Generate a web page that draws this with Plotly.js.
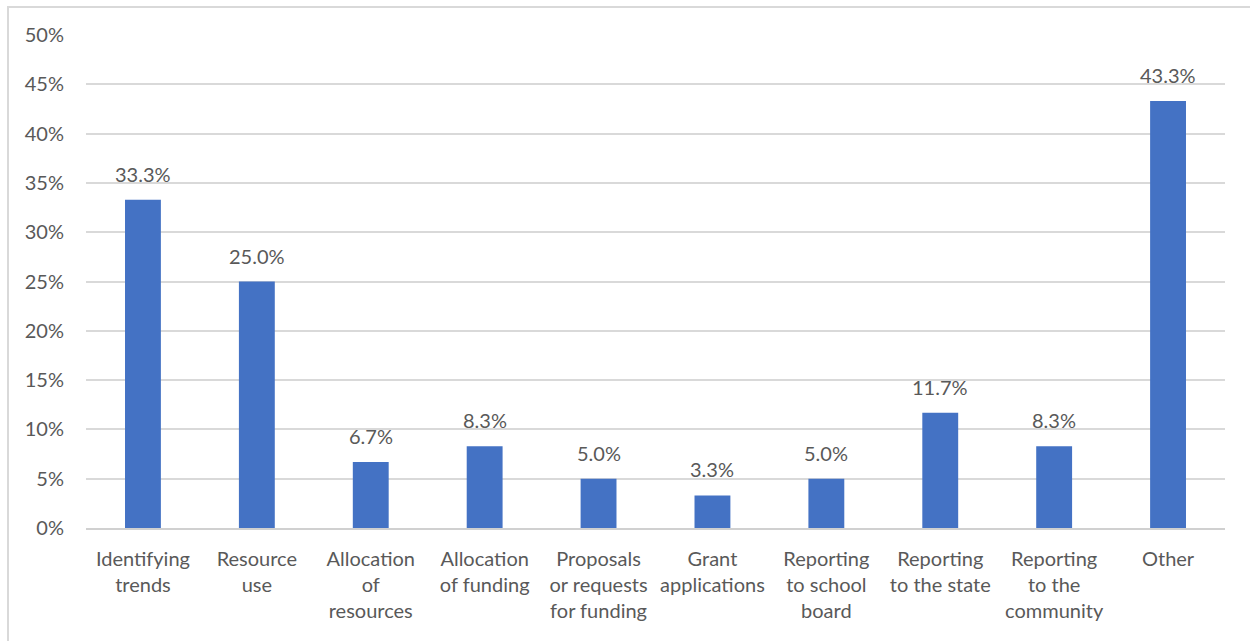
<!DOCTYPE html>
<html>
<head>
<meta charset="utf-8">
<script src="https://cdn.plot.ly/plotly-3.0.1.min.js"></script>
<style>
  html, body { margin: 0; padding: 0; background: #ffffff; }
  #wrap { position: relative; width: 1250px; height: 641px; overflow: hidden; }
  #chart { position: absolute; left: 0; top: 0; width: 1250px; height: 641px; }
  #frame { position: absolute; left: 7px; top: 6px; width: 1300px; height: 700px;
           border-left: 2px solid #d9d9d9; border-top: 2px solid #d9d9d9; pointer-events: none; }
</style>
</head>
<body>
<div id="wrap">
  <div id="chart"></div>
  <div id="frame"></div>
</div>
<script>
const categories = [
  "Identifying<br>trends",
  "Resource<br>use",
  "Allocation<br>of<br>resources",
  "Allocation<br>of funding",
  "Proposals<br>or requests<br>for funding",
  "Grant<br>applications",
  "Reporting<br>to school<br>board",
  "Reporting<br>to the state",
  "Reporting<br>to the<br>community",
  "Other"
];
const values = [0.333, 0.250, 0.067, 0.083, 0.050, 0.033, 0.050, 0.117, 0.083, 0.433];
const valueLabels = values.map(v => (v * 100).toFixed(1) + "%");

const font = { family: "Lato, 'Open Sans', sans-serif", size: 20, color: "#595959" };

const trace = {
  type: "bar",
  x: categories,
  y: values,
  cliponaxis: false,
  marker: { color: "#4472C4" },
  hoverinfo: "skip"
};

const annotations = categories.map((c, i) => ({
  x: c,
  y: values[i],
  xref: "x",
  yref: "y",
  text: valueLabels[i],
  showarrow: false,
  yanchor: "bottom",
  yshift: 12,
  font: font
}));

const layout = {
  width: 1250,
  height: 641,
  margin: { l: 86, r: 25, t: 35, b: 113 },
  paper_bgcolor: "#ffffff",
  plot_bgcolor: "#ffffff",
  font: font,
  bargap: 0.685,
  showlegend: false,
  annotations: annotations,
  xaxis: {
    type: "category",
    showgrid: false,
    showline: true,
    linecolor: "#d0d0d0",
    linewidth: 2,
    ticks: "",
    tickfont: font,
    ticklabelstandoff: 12,
    fixedrange: true
  },
  yaxis: {
    range: [0, 0.5],
    tickvals: [0, 0.05, 0.1, 0.15, 0.2, 0.25, 0.3, 0.35, 0.4, 0.45, 0.5],
    tickformat: ".0%",
    showgrid: true,
    gridcolor: "#d9d9d9",
    gridwidth: 2,
    zeroline: false,
    showline: false,
    ticks: "",
    tickfont: font,
    ticklabelstandoff: 21,
    fixedrange: true
  }
};

Plotly.newPlot("chart", [trace], layout, { displayModeBar: false, staticPlot: true });
</script>
</body>
</html>
